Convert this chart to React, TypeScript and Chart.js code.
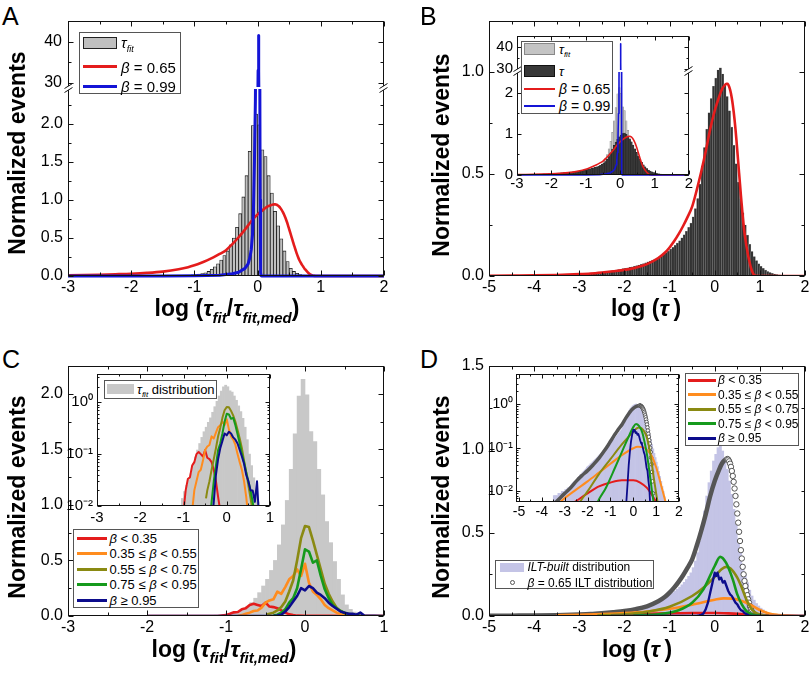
import React, { useEffect, useRef } from 'react';
import { Chart, registerables } from 'chart.js';

Chart.register(...registerables);

const FONT = "'Liberation Sans', Arial, Helvetica, sans-serif";

// ---------------- data ----------------
// tau_fit histogram (A, B inset, C)
const FIT_BIN_X = [-1.225, -1.175, -1.125, -1.075, -1.025, -0.975, -0.925, -0.875, -0.825, -0.775, -0.725, -0.675, -0.625, -0.575, -0.525, -0.475, -0.425, -0.375, -0.325, -0.275, -0.225, -0.175, -0.125, -0.075, -0.025, 0.025, 0.075, 0.125, 0.175, 0.225, 0.275, 0.325, 0.375, 0.425, 0.475, 0.525, 0.575, 0.625, 0.675, 0.725];
const FIT_HIST = [0.003, 0.005, 0.007, 0.01, 0.014, 0.019, 0.025, 0.032, 0.042, 0.06, 0.088, 0.12, 0.16, 0.21, 0.27, 0.33, 0.41, 0.5, 0.64, 0.82, 1.04, 1.32, 1.64, 1.98, 2.13, 1.99, 1.66, 1.57, 1.32, 1.09, 0.85, 0.66, 0.49, 0.33, 0.19, 0.1, 0.06, 0.035, 0.02, 0.012];

// tau histogram (B main, B inset, D ILT-built)
const TAU_BIN_X = [
  -3.475, -3.425, -3.375, -3.325, -3.275, -3.225, -3.175, -3.125, -3.075, -3.025,
  -2.975, -2.925, -2.875, -2.825, -2.775, -2.725, -2.675, -2.625, -2.575, -2.525,
  -2.475, -2.425, -2.375, -2.325, -2.275, -2.225, -2.175, -2.125, -2.075, -2.025,
  -1.975, -1.925, -1.875, -1.825, -1.775, -1.725, -1.675, -1.625, -1.575, -1.525,
  -1.475, -1.425, -1.375, -1.325, -1.275, -1.225, -1.175, -1.125, -1.075, -1.025,
  -0.975, -0.925, -0.875, -0.825, -0.775, -0.725, -0.675, -0.625, -0.575, -0.525,
  -0.475, -0.425, -0.375, -0.325, -0.275, -0.225, -0.175, -0.125, -0.075, -0.025,
  0.025, 0.075, 0.125, 0.175, 0.225, 0.275, 0.325, 0.375, 0.425, 0.475,
  0.525, 0.575, 0.625, 0.675, 0.725, 0.775, 0.825, 0.875, 0.925, 0.975,
  1.025, 1.075, 1.125, 1.175, 1.225, 1.275, 1.325, 1.375, 1.425, 1.475,
  1.525, 1.575];
const TAU_HIST = [
  0.008, 0.008, 0.008, 0.008, 0.009, 0.009, 0.009, 0.01, 0.01, 0.01,
  0.011, 0.011, 0.012, 0.012, 0.013, 0.014, 0.015, 0.016, 0.017, 0.018,
  0.019, 0.021, 0.022, 0.024, 0.025, 0.027, 0.029, 0.031, 0.033, 0.036,
  0.038, 0.04, 0.043, 0.045, 0.048, 0.051, 0.054, 0.057, 0.061, 0.065,
  0.069, 0.073, 0.078, 0.083, 0.088, 0.094, 0.1, 0.107, 0.114, 0.122,
  0.131, 0.14, 0.15, 0.161, 0.173, 0.187, 0.202, 0.219, 0.238, 0.259,
  0.29, 0.33, 0.38, 0.45, 0.54, 0.63, 0.72, 0.8, 0.87, 0.93,
  0.97, 1.01, 1.02, 0.99, 0.94, 0.88, 0.81, 0.73, 0.64, 0.55,
  0.46, 0.38, 0.31, 0.25, 0.2, 0.155, 0.12, 0.095, 0.075, 0.06,
  0.047, 0.037, 0.029, 0.022, 0.017, 0.013, 0.01, 0.0075, 0.0055, 0.004,
  0.003, 0.002];

// beta = 0.65 curve (A, B red; D ILT circles)
const B065_X = [-5, -4.5, -4, -3.5, -3, -2.75, -2.5, -2.25, -2, -1.75, -1.5, -1.25, -1.1, -1, -0.9, -0.8, -0.7, -0.6, -0.5, -0.4, -0.3, -0.2, -0.1, 0, 0.1, 0.16, 0.22, 0.26, 0.28, 0.3, 0.32, 0.34, 0.36, 0.38, 0.4, 0.42, 0.44, 0.46, 0.48, 0.5, 0.52, 0.54, 0.56, 0.58, 0.6, 0.62, 0.64, 0.66, 0.68, 0.7, 0.72, 0.74, 0.76, 0.78, 0.8, 0.82, 0.84, 0.86, 0.88, 0.9, 0.92, 0.95, 1, 1.5, 2];
const B065_Y = [0.001, 0.002, 0.003, 0.005, 0.009, 0.012, 0.017, 0.023, 0.03, 0.041, 0.058, 0.088, 0.115, 0.14, 0.17, 0.205, 0.245, 0.29, 0.34, 0.42, 0.51, 0.61, 0.72, 0.81, 0.88, 0.915, 0.935, 0.942, 0.942, 0.938, 0.928, 0.914, 0.895, 0.87, 0.84, 0.805, 0.765, 0.72, 0.67, 0.615, 0.56, 0.505, 0.45, 0.395, 0.345, 0.295, 0.25, 0.21, 0.18, 0.15, 0.125, 0.1, 0.08, 0.06, 0.042, 0.028, 0.017, 0.009, 0.004, 0.0015, 0.0005, 0.0001, 0, 0, 0];

// beta = 0.99 curve (A, B inset blue)
const B099_X = [-3, -1.5, -1, -0.6, -0.4, -0.3, -0.2, -0.15, -0.12, -0.1, -0.08, -0.065, -0.05, -0.035, -0.02, -0.005, 0.008, 0.014, 0.02, 0.028, 0.034, 0.04, 0.045, 0.05, 0.055, 0.065, 2];
const B099_Y = [0, 0, 0.002, 0.01, 0.03, 0.05, 0.1, 0.16, 0.25, 0.35, 0.55, 0.9, 1.5, 2.3, 4, 12, 33, 41.5, 33, 12, 3, 1, 0.3, 0.05, 0.005, 0, 0];

// panel C beta-class distributions of tau_fit
const C_RED_X = [-2, -1.1, -1, -0.95, -0.9, -0.85, -0.8, -0.75, -0.7, -0.65, -0.6, -0.55, -0.5, -0.45, -0.4, -0.35, -0.3, -0.25, -0.2, -0.15, -0.1, 0, 0.3, 0.7, 1];
const C_RED_Y = [0, 0, 0.008, 0.02, 0.033, 0.036, 0.06, 0.07, 0.1, 0.11, 0.1, 0.09, 0.12, 0.085, 0.08, 0.07, 0.05, 0.03, 0.015, 0.008, 0.003, 0.001, 0.001, 0, 0];
const C_ORANGE_X = [-0.85, -0.8, -0.75, -0.7, -0.65, -0.6, -0.55, -0.5, -0.45, -0.4, -0.35, -0.3, -0.25, -0.2, -0.15, -0.1, -0.05, 0, 0.05, 0.1, 0.15, 0.2, 0.25, 0.3, 0.35, 0.4, 0.45, 0.5, 0.6, 1];
const C_ORANGE_Y = [0, 0.008, 0.02, 0.03, 0.045, 0.05, 0.075, 0.12, 0.14, 0.15, 0.22, 0.2, 0.26, 0.33, 0.36, 0.42, 0.36, 0.47, 0.3, 0.22, 0.19, 0.15, 0.1, 0.07, 0.05, 0.03, 0.015, 0.006, 0.002, 0];
const C_OLIVE_X = [-0.48, -0.45, -0.4, -0.35, -0.3, -0.25, -0.2, -0.15, -0.1, -0.05, 0, 0.05, 0.1, 0.15, 0.2, 0.25, 0.3, 0.35, 0.4, 0.45, 0.5, 0.55, 0.6, 0.65, 0.7];
const C_OLIVE_Y = [0.014, 0.02, 0.03, 0.05, 0.08, 0.13, 0.22, 0.32, 0.5, 0.7, 0.81, 0.8, 0.68, 0.55, 0.42, 0.29, 0.2, 0.13, 0.075, 0.045, 0.025, 0.014, 0.008, 0.003, 0.001];
const C_GREEN_X = [-0.4, -0.35, -0.3, -0.25, -0.2, -0.15, -0.1, -0.05, 0, 0.05, 0.1, 0.15, 0.2, 0.25, 0.3, 0.35, 0.4, 0.45, 0.5, 0.55, 0.6, 0.65, 0.7];
const C_GREEN_Y = [0.005, 0.012, 0.03, 0.06, 0.12, 0.16, 0.25, 0.42, 0.6, 0.58, 0.48, 0.5, 0.36, 0.24, 0.16, 0.1, 0.07, 0.045, 0.03, 0.02, 0.012, 0.006, 0.002];
const C_NAVY_X = [-2, -0.4, -0.35, -0.3, -0.25, -0.2, -0.15, -0.1, -0.05, 0, 0.05, 0.1, 0.15, 0.2, 0.25, 0.3, 0.35, 0.4, 0.45, 0.5, 0.55, 0.6, 0.65, 0.7, 0.75, 1];
const C_NAVY_Y = [0, 0, 0.004, 0.012, 0.04, 0.08, 0.13, 0.18, 0.25, 0.23, 0.27, 0.25, 0.21, 0.19, 0.16, 0.12, 0.09, 0.065, 0.04, 0.03, 0.02, 0.02, 0.012, 0.03, 0.005, 0];

// panel D beta-class ILT distributions of tau
const D_RED_X = [-3.5, -3, -2.5, -2, -1.5, -1, -0.5, 0, 0.3, 0.6, 0.9, 1.1, 1.3, 1.6, 2];
const D_RED_Y = [0.003, 0.004, 0.006, 0.009, 0.013, 0.016, 0.018, 0.018, 0.016, 0.012, 0.007, 0.0045, 0.002, 0.0005, 0];
const D_ORANGE_X = [-3.5, -3, -2.5, -2, -1.5, -1, -0.5, 0, 0.2, 0.4, 0.6, 0.8, 1, 1.2, 1.4, 1.6, 2];
const D_ORANGE_Y = [0.004, 0.007, 0.011, 0.017, 0.027, 0.043, 0.068, 0.098, 0.106, 0.104, 0.09, 0.066, 0.036, 0.015, 0.006, 0.002, 0];
const D_OLIVE_X = [-2.6, -2.4, -2, -1.5, -1, -0.5, -0.25, 0, 0.15, 0.25, 0.35, 0.5, 0.6, 0.7, 0.8, 0.9, 1, 1.1, 1.2];
const D_OLIVE_Y = [0.003, 0.005, 0.01, 0.025, 0.055, 0.12, 0.17, 0.235, 0.28, 0.295, 0.285, 0.23, 0.17, 0.1, 0.048, 0.02, 0.009, 0.004, 0.001];
const D_GREEN_X = [-1.8, -1.6, -1.2, -0.8, -0.5, -0.25, 0, 0.12, 0.25, 0.4, 0.5, 0.6, 0.7, 0.8, 0.9, 1];
const D_GREEN_Y = [0.002, 0.005, 0.012, 0.035, 0.08, 0.16, 0.3, 0.355, 0.32, 0.22, 0.13, 0.07, 0.03, 0.012, 0.005, 0.002];
const D_NAVY_X = [-2.3, -0.5, -0.4, -0.35, -0.3, -0.25, -0.2, -0.15, -0.1, -0.05, 0, 0.03, 0.06, 0.1, 0.14, 0.18, 0.22, 0.26, 0.3, 0.34, 0.38, 0.42, 0.46, 0.5, 0.54, 0.58, 0.62, 0.66, 0.7, 0.75, 0.8, 2];
const D_NAVY_Y = [0, 0, 0.001, 0.003, 0.006, 0.015, 0.04, 0.08, 0.14, 0.2, 0.26, 0.24, 0.26, 0.22, 0.23, 0.2, 0.21, 0.18, 0.15, 0.13, 0.12, 0.1, 0.08, 0.07, 0.05, 0.035, 0.03, 0.018, 0.012, 0.004, 0.001, 0];

// ticks
const X3_MAJOR = [-3, -2, -1, 0, 1, 2];
const X3_MINOR = [-2.5, -1.5, -0.5, 0.5, 1.5];
const X5_MAJOR = [-5, -4, -3, -2, -1, 0, 1, 2];
const X5_MINOR = [-4.5, -3.5, -2.5, -1.5, -0.5, 0.5, 1.5];
const XC_MAJOR = [-3, -2, -1, 0, 1];
const XC_MINOR = [-2.5, -1.5, -0.5, 0.5];
const LOG_MAJOR = [0.01, 0.1, 1];
const LOG_MINOR_C = [0.02, 0.03, 0.04, 0.05, 0.06, 0.07, 0.08, 0.09, 0.2, 0.3, 0.4, 0.5, 0.6, 0.7, 0.8, 0.9, 2, 3];
const LOG_MINOR_D = [0.006, 0.007, 0.008, 0.009, 0.02, 0.03, 0.04, 0.05, 0.06, 0.07, 0.08, 0.09, 0.2, 0.3, 0.4, 0.5, 0.6, 0.7, 0.8, 0.9, 2, 3, 4];

const CLASS_LABELS = ['β < 0.35', '0.35 ≤ β < 0.55', '0.55 ≤ β < 0.75', '0.75 ≤ β < 0.95', 'β ≥ 0.95'];

// ---------------- styles ----------------
const RED = '#e41c1c';
const BLUE = '#1414d6';
const ORANGE = '#ff8c1e';
const OLIVE = '#8a8a12';
const GREEN = '#169a1c';
const NAVY = '#0c0c8c';
const ILT_GREY = '#555555';
const LAV = '#c4c4e6';
const CLASS_COLORS = [RED, ORANGE, OLIVE, GREEN, NAVY];

const pts = (xs: number[], ys: number[], log: boolean) =>
  xs.map((x, i) => ({ x, y: log && !(ys[i] > 0) ? null : ys[i] }));

function line(xs: number[], ys: number[], color: string, width: number, log: boolean, extra: any = {}) {
  return {
    type: 'line', data: pts(xs, ys, log), borderColor: color, borderWidth: width,
    pointRadius: 0, fill: false, tension: 0, borderJoinStyle: 'round', ...extra,
  };
}
function bars(xs: number[], ys: number[], style: any, log: boolean) {
  return {
    type: 'bar', data: pts(xs, ys, log), barPercentage: 1, categoryPercentage: 1,
    grouped: false, borderSkipped: 'start', borderWidth: 0, ...style,
  };
}
function ilt(log: boolean, r: number, lw: number) {
  return line(B065_X, B065_Y, ILT_GREY, lw, log, {
    cubicInterpolationMode: 'monotone',
    segment: { borderColor: (c: any) => (c.p0.parsed.x >= 0.27 ? 'rgba(0,0,0,0)' : ILT_GREY) },
    pointRadius: (c: any) => {
      const x = c.raw ? c.raw.x : -99;
      return x >= 0.27 && x <= 0.92 ? r : 0;
    },
    pointBackgroundColor: '#fff', pointBorderColor: ILT_GREY, pointBorderWidth: 1,
  });
}

const smooth = { cubicInterpolationMode: 'monotone' };

const dsA = (clip: any) => [
  bars(FIT_BIN_X, FIT_HIST, { backgroundColor: '#c0c0c0', borderColor: '#1a1a1a', borderWidth: 0.8 }, false),
  line(B065_X, B065_Y, RED, 2.6, false, { ...smooth, clip }),
  line(B099_X, B099_Y, BLUE, 3, false, { clip }),
];
const dsBI = (clip: any) => [
  bars(FIT_BIN_X, FIT_HIST, { backgroundColor: '#c4c4c4', borderColor: '#8a8a8a', borderWidth: 0.5 }, false),
  bars(TAU_BIN_X, TAU_HIST, { backgroundColor: '#383838', borderColor: '#1a1a1a', borderWidth: 0.3 }, false),
  line(B065_X, B065_Y, RED, 1.6, false, { ...smooth, clip }),
  line(B099_X, B099_Y, BLUE, 1.6, false, { clip }),
];
const dsC = (log: boolean, lw: number) => [
  bars(FIT_BIN_X, FIT_HIST, { backgroundColor: '#c8c8c8' }, log),
  line(C_RED_X, C_RED_Y, RED, lw, log),
  line(C_ORANGE_X, C_ORANGE_Y, ORANGE, lw, log),
  line(C_OLIVE_X, C_OLIVE_Y, OLIVE, lw, log),
  line(C_GREEN_X, C_GREEN_Y, GREEN, lw, log),
  line(C_NAVY_X, C_NAVY_Y, NAVY, lw, log),
];
const dsD = (log: boolean, lw: number, r: number, iltw: number) => [
  bars(TAU_BIN_X, TAU_HIST, { backgroundColor: LAV }, log),
  ilt(log, r, iltw),
  line(D_RED_X, D_RED_Y, RED, lw, log, smooth),
  line(D_ORANGE_X, D_ORANGE_Y, ORANGE, lw, log, smooth),
  line(D_OLIVE_X, D_OLIVE_Y, OLIVE, lw, log, smooth),
  line(D_GREEN_X, D_GREEN_Y, GREEN, lw, log, smooth),
  line(D_NAVY_X, D_NAVY_Y, NAVY, lw * 0.9, log),
];

// ---------------- frame / ticks plugin ----------------
const framePlugin = {
  id: 'frame',
  beforeDatasetsDraw(chart: any, _a: any, o: any) {
    if (!o || !o.bg) return;
    const a = chart.chartArea;
    const ctx = chart.ctx;
    ctx.save();
    ctx.fillStyle = o.bg;
    ctx.fillRect(a.left, a.top, a.right - a.left, a.bottom - a.top);
    ctx.restore();
  },
  afterDraw(chart: any, _a: any, o: any) {
    const ctx = chart.ctx;
    const a = chart.chartArea;
    const xs = chart.scales.x;
    const ys = chart.scales.y;
    const s: string = o.sides;
    const L = Math.round(a.left) + 0.5;
    const R = Math.round(a.right) - 0.5;
    const T = Math.round(a.top) + 0.5;
    const B = Math.round(a.bottom) - 0.5;
    ctx.save();
    ctx.strokeStyle = '#111';
    ctx.lineWidth = 1;
    ctx.beginPath();
    if (s.includes('t')) { ctx.moveTo(L - 0.5, T); ctx.lineTo(R + 0.5, T); }
    if (s.includes('b')) { ctx.moveTo(L - 0.5, B); ctx.lineTo(R + 0.5, B); }
    if (s.includes('l')) { ctx.moveTo(L, a.top); ctx.lineTo(L, a.bottom); }
    if (s.includes('r')) { ctx.moveTo(R, a.top); ctx.lineTo(R, a.bottom); }
    const xt = (vals: number[], len: number) => vals.forEach((v) => {
      const p = Math.round(xs.getPixelForValue(v)) + 0.5;
      if (s.includes('b')) { ctx.moveTo(p, B); ctx.lineTo(p, B - len); }
      if (s.includes('t')) { ctx.moveTo(p, T); ctx.lineTo(p, T + len); }
    });
    const yt = (vals: number[], len: number) => vals.forEach((v) => {
      const p = Math.round(ys.getPixelForValue(v)) + 0.5;
      if (p < a.top - 0.1 || p > a.bottom + 0.6) return;
      ctx.moveTo(L, p); ctx.lineTo(L + len, p);
      ctx.moveTo(R, p); ctx.lineTo(R - len, p);
    });
    xt(o.xMajor, o.maj); xt(o.xMinor, o.min);
    yt(o.yMajor, o.maj); yt(o.yMinor, o.min);
    ctx.stroke();
    if (o.breakTop) {
      const yb = a.top - 1;
      [L, R].forEach((x) => {
        ctx.fillStyle = '#fff';
        ctx.beginPath();
        ctx.moveTo(x - 4, yb + 4.5); ctx.lineTo(x + 4, yb - 0.5);
        ctx.lineTo(x + 4, yb - 4.5); ctx.lineTo(x - 4, yb + 0.5);
        ctx.closePath(); ctx.fill();
        ctx.beginPath();
        ctx.moveTo(x - 4, yb + 4.5); ctx.lineTo(x + 4, yb - 0.5);
        ctx.moveTo(x - 4, yb + 0.5); ctx.lineTo(x + 4, yb - 4.5);
        ctx.stroke();
      });
    }
    ctx.restore();
  },
};

// ---------------- chart specs ----------------
type AxisDef = { min: number; max: number; log?: boolean; major: number[]; minor: number[]; labels: boolean; fmt?: (v: number) => string; pad?: number };
type Spec = {
  key: string; x0: number; y0: number; w: number; h: number; ml: number; mt: number; mr: number; mb: number;
  xa: AxisDef; ya: AxisDef; datasets: () => any[]; sides: string; breakTop?: boolean; bg?: string;
  font: number; maj: number; min: number;
};

const fmt1 = (v: number) => v.toFixed(1);
const fmtI = (v: number) => String(v);
const fmtLog = (v: number) => (Math.abs(v - 1) < 1e-9 ? '10⁰' : Math.abs(v - 0.1) < 1e-9 ? '10⁻¹' : Math.abs(v - 0.01) < 1e-9 ? '10⁻²' : '');

function buildConfig(s: Spec) {
  const font = { family: FONT, size: s.font };
  const axis = (a: AxisDef, isX: boolean) => ({
    type: a.log ? 'logarithmic' : 'linear',
    min: a.min, max: a.max, bounds: 'data', offset: false,
    position: isX ? 'bottom' : 'left',
    grid: { display: false, drawTicks: false },
    border: { display: false },
    ticks: {
      display: a.labels, font, color: '#000', padding: a.pad ?? (isX ? 2 : 5),
      autoSkip: false, maxRotation: 0, minRotation: 0,
      callback: (v: any) => (a.fmt ? a.fmt(Number(v)) : String(v)),
    },
    afterBuildTicks: (sc: any) => { sc.ticks = a.major.map((v) => ({ value: v })); },
    afterFit: (sc: any) => { if (isX) sc.height = s.mb; else sc.width = s.ml; },
  });
  const ds = s.datasets();
  return {
    type: 'line',
    data: { datasets: ds.map((d, i) => ({ order: ds.length - i, ...d })) },
    options: {
      responsive: true, maintainAspectRatio: false, animation: false, events: [],
      layout: { padding: { top: s.mt, right: s.mr, left: 0, bottom: 0 } },
      plugins: {
        legend: { display: false }, tooltip: { enabled: false }, title: { display: false },
        frame: {
          sides: s.sides, breakTop: !!s.breakTop, bg: s.bg, maj: s.maj, min: s.min,
          xMajor: s.xa.major, xMinor: s.xa.minor, yMajor: s.ya.major, yMinor: s.ya.minor,
        },
      },
      scales: { x: axis(s.xa, true), y: axis(s.ya, false) },
    },
    plugins: [framePlugin],
  };
}

const clipSplit = { left: 0, right: 0, top: 0, bottom: 3 };

const SPECS: Spec[] = [
  { key: 'A_up', x0: 68, y0: 21, w: 316, h: 66, ml: 46, mt: 18, mr: 16, mb: 18,
    xa: { min: -3, max: 2, major: X3_MAJOR, minor: X3_MINOR, labels: false },
    ya: { min: 29, max: 45, major: [30, 40], minor: [35], labels: true, fmt: fmtI, pad: 6 },
    datasets: () => dsA(0), sides: 'tlr', font: 16, maj: 5, min: 3 },
  { key: 'A_lo', x0: 68, y0: 89, w: 316, h: 187, ml: 46, mt: 18, mr: 16, mb: 30,
    xa: { min: -3, max: 2, major: X3_MAJOR, minor: X3_MINOR, labels: true, fmt: fmtI },
    ya: { min: 0, max: 2.46, major: [0, 0.5, 1, 1.5, 2], minor: [0.25, 0.75, 1.25, 1.75, 2.25], labels: true, fmt: fmt1 },
    datasets: () => dsA(clipSplit), sides: 'blr', breakTop: true, font: 16, maj: 5, min: 3 },
  { key: 'B', x0: 489, y0: 21, w: 316, h: 255, ml: 46, mt: 18, mr: 16, mb: 30,
    xa: { min: -5, max: 2, major: X5_MAJOR, minor: X5_MINOR, labels: true, fmt: fmtI },
    ya: { min: 0, max: 1.25, major: [0, 0.5, 1], minor: [0.25, 0.75], labels: true, fmt: fmt1 },
    datasets: () => [
      bars(TAU_BIN_X, TAU_HIST, { backgroundColor: '#333333', borderColor: '#8a8a8a', borderWidth: 0.4 }, false),
      line(B065_X, B065_Y, RED, 2.6, false, smooth),
    ], sides: 'tblr', font: 16, maj: 5, min: 3 },
  { key: 'B_in_up', x0: 517, y0: 36, w: 172, h: 34, ml: 34, mt: 18, mr: 16, mb: 18,
    xa: { min: -3, max: 2, major: X3_MAJOR, minor: X3_MINOR, labels: false },
    ya: { min: 29.5, max: 45, major: [30, 40], minor: [35], labels: true, fmt: fmtI, pad: 4 },
    datasets: () => dsBI(0), sides: 'tlr', bg: '#fff', font: 15, maj: 4, min: 2 },
  { key: 'B_in_lo', x0: 517, y0: 72, w: 172, h: 103, ml: 34, mt: 18, mr: 16, mb: 26,
    xa: { min: -3, max: 2, major: X3_MAJOR, minor: X3_MINOR, labels: true, fmt: fmtI, pad: 0 },
    ya: { min: 0, max: 2.51, major: [0, 1, 2], minor: [0.5, 1.5], labels: true, fmt: fmtI, pad: 4 },
    datasets: () => dsBI(clipSplit), sides: 'blr', breakTop: true, bg: '#fff', font: 15, maj: 4, min: 2 },
  { key: 'C', x0: 68, y0: 366, w: 316, h: 250, ml: 46, mt: 18, mr: 16, mb: 30,
    xa: { min: -3, max: 1, major: XC_MAJOR, minor: XC_MINOR, labels: true, fmt: fmtI },
    ya: { min: 0, max: 2.25, major: [0, 0.5, 1, 1.5, 2], minor: [0.25, 0.75, 1.25, 1.75], labels: true, fmt: fmt1 },
    datasets: () => dsC(false, 2.6), sides: 'tblr', font: 16, maj: 5, min: 3 },
  { key: 'C_in', x0: 97, y0: 374, w: 173, h: 132, ml: 42, mt: 18, mr: 16, mb: 28,
    xa: { min: -3, max: 1, major: XC_MAJOR, minor: XC_MINOR, labels: true, fmt: fmtI, pad: 3 },
    ya: { min: 0.01, max: 3.5, log: true, major: LOG_MAJOR, minor: LOG_MINOR_C, labels: true, fmt: fmtLog, pad: 4 },
    datasets: () => dsC(true, 2), sides: 'tblr', bg: '#fff', font: 15, maj: 4, min: 2 },
  { key: 'D', x0: 489, y0: 366, w: 316, h: 250, ml: 46, mt: 18, mr: 16, mb: 30,
    xa: { min: -5, max: 2, major: X5_MAJOR, minor: X5_MINOR, labels: true, fmt: fmtI },
    ya: { min: 0, max: 1.5, major: [0, 0.5, 1, 1.5], minor: [0.25, 0.75, 1.25], labels: true, fmt: fmt1 },
    datasets: () => dsD(false, 2.6, 2.7, 4.5), sides: 'tblr', font: 16, maj: 5, min: 3 },
  { key: 'D_in', x0: 516, y0: 374, w: 163, h: 128, ml: 38, mt: 18, mr: 16, mb: 26,
    xa: { min: -5.13, max: 2, major: X5_MAJOR, minor: X5_MINOR, labels: true, fmt: fmtI, pad: 2 },
    ya: { min: 0.0057, max: 5, log: true, major: LOG_MAJOR, minor: LOG_MINOR_D, labels: true, fmt: fmtLog, pad: 3 },
    datasets: () => dsD(true, 2, 1.8, 3.5), sides: 'tblr', bg: '#fff', font: 14, maj: 4, min: 2 },
];

function Plot({ spec }: { spec: Spec }) {
  const ref = useRef<HTMLCanvasElement | null>(null);
  useEffect(() => {
    const chart = new Chart(ref.current as HTMLCanvasElement, buildConfig(spec) as any);
    return () => chart.destroy();
  }, [spec]);
  const W = spec.w + spec.ml + spec.mr;
  const H = spec.h + spec.mt + spec.mb;
  return (
    <div style={{ position: 'absolute', left: spec.x0 - spec.ml, top: spec.y0 - spec.mt, width: W, height: H }}>
      <canvas ref={ref} />
    </div>
  );
}

// ---------------- HTML text helpers ----------------
const T = (p: { x: number; cy: number; size: number; children: any; style?: any }) => (
  <div style={{ position: 'absolute', left: p.x, top: p.cy - p.size / 2, fontSize: p.size, lineHeight: `${p.size}px`, whiteSpace: 'nowrap', ...p.style }}>
    {p.children}
  </div>
);
const Box = (p: { x: number; y: number; w: number; h: number; style?: any }) => (
  <div style={{ position: 'absolute', left: p.x, top: p.y, width: p.w, height: p.h, boxSizing: 'border-box', ...p.style }} />
);
const Sub = (p: { size: number; children: any }) => (
  <span style={{ fontSize: p.size, fontStyle: 'italic', position: 'relative', top: p.size * 0.45 }}>{p.children}</span>
);
const TauFit = ({ size }: { size: number }) => (<><i>τ</i><Sub size={size}>fit</Sub></>);
const withBeta = (s: string) => {
  const parts = s.split('β');
  return parts.map((p, i) => (
    <React.Fragment key={i}>{p}{i < parts.length - 1 ? <i>β</i> : null}</React.Fragment>
  ));
};
const YTitle = ({ cx, cy }: { cx: number; cy: number }) => (
  <div style={{ position: 'absolute', left: cx, top: cy, transform: 'translate(-50%,-50%) rotate(-90deg)', fontSize: 23, fontWeight: 700, lineHeight: '23px', whiteSpace: 'nowrap' }}>
    Normalized events
  </div>
);
const XTitleFit = ({ cx, base }: { cx: number; base: number }) => (
  <div style={{ position: 'absolute', left: cx, top: base - 19.5, transform: 'translateX(-50%)', fontSize: 23, fontWeight: 700, lineHeight: '23px', whiteSpace: 'nowrap' }}>
    log (<i>τ</i><Sub size={15}>fit</Sub>/<i>τ</i><Sub size={15}>fit,med</Sub>)
  </div>
);
const XTitleTau = ({ cx, base }: { cx: number; base: number }) => (
  <div style={{ position: 'absolute', left: cx, top: base - 19.5, transform: 'translateX(-50%)', fontSize: 23, fontWeight: 700, lineHeight: '23px', whiteSpace: 'nowrap' }}>
    log (<i>τ</i>&#8201;)
  </div>
);
const Letter = ({ x, y, c }: { x: number; y: number; c: string }) => (
  <div style={{ position: 'absolute', left: x, top: y, fontSize: 25, lineHeight: '25px' }}>{c}</div>
);

const C_LEG_Y = [538, 553.7, 569, 584.7, 600.3];
const D_LEG_Y = [380.3, 394.7, 409.3, 423.7, 438];

export default function App() {
  return (
    <div style={{ position: 'absolute', left: 0, top: 0, width: 812, height: 675, overflow: 'hidden', background: '#fff', fontFamily: FONT, color: '#000' }}>
      {SPECS.map((s) => <Plot key={s.key} spec={s} />)}

      <Letter x={2} y={4} c="A" />
      <Letter x={420} y={4} c="B" />
      <Letter x={2} y={347} c="C" />
      <Letter x={420} y={347} c="D" />

      <YTitle cx={17} cy={153} />
      <YTitle cx={441} cy={155} />
      <YTitle cx={17} cy={497} />
      <YTitle cx={441} cy={497} />

      <XTitleFit cx={227} base={316.5} />
      <XTitleTau cx={646} base={316.5} />
      <XTitleFit cx={224} base={657} />
      <XTitleTau cx={637} base={657} />

      {/* A legend */}
      <Box x={79} y={32} w={102} h={62} style={{ border: '1px solid #555', background: '#fff' }} />
      <Box x={83} y={37} w={34} h={12} style={{ background: '#c0c0c0', border: '1px solid #222' }} />
      <T x={121} cy={42} size={15}><TauFit size={9} /></T>
      <Box x={83} y={65.2} w={34} h={3} style={{ background: RED }} />
      <T x={121} cy={67} size={15}>{withBeta('β = 0.65')}</T>
      <Box x={83} y={84.5} w={34} h={3} style={{ background: BLUE }} />
      <T x={121} cy={86} size={15}>{withBeta('β = 0.99')}</T>

      {/* B inset legend */}
      <Box x={521} y={41} w={92} h={73} style={{ border: '1px solid #555', background: '#fff' }} />
      <Box x={524} y={43} w={31} h={12} style={{ background: '#c4c4c4', border: '1px solid #888' }} />
      <T x={559} cy={49} size={13}><TauFit size={8} /></T>
      <Box x={524} y={65} w={31} h={12} style={{ background: '#383838', border: '1px solid #111' }} />
      <T x={559} cy={71} size={13}><i>τ</i></T>
      <Box x={524} y={88.3} w={31} h={2} style={{ background: RED }} />
      <T x={559} cy={89} size={14}>{withBeta('β = 0.65')}</T>
      <Box x={524} y={105} w={31} h={2} style={{ background: BLUE }} />
      <T x={559} cy={106} size={14}>{withBeta('β = 0.99')}</T>

      {/* C main legend */}
      <Box x={73} y={529} w={126} h={79} style={{ border: '1px solid #555', background: '#fff' }} />
      {CLASS_LABELS.map((lab, i) => (
        <React.Fragment key={'c' + i}>
          <Box x={77} y={C_LEG_Y[i] - 1.5} w={30} h={3} style={{ background: CLASS_COLORS[i] }} />
          <T x={109.5} cy={C_LEG_Y[i]} size={13}>{withBeta(lab)}</T>
        </React.Fragment>
      ))}

      {/* C inset legend */}
      <Box x={104} y={380} w={113} h={18.5} style={{ border: '1px solid #555', background: '#fff' }} />
      <Box x={107} y={383.5} w={27} h={10} style={{ background: '#c8c8c8' }} />
      <T x={137} cy={389.3} size={13}><TauFit size={8} /> distribution</T>

      {/* D legend */}
      <Box x={685} y={373} w={114} h={73} style={{ border: '1px solid #555', background: '#fff' }} />
      {CLASS_LABELS.map((lab, i) => (
        <React.Fragment key={'d' + i}>
          <Box x={688} y={D_LEG_Y[i] - 1.5} w={28} h={3} style={{ background: CLASS_COLORS[i] }} />
          <T x={718} cy={D_LEG_Y[i]} size={12}>{withBeta(lab)}</T>
        </React.Fragment>
      ))}

      {/* D lower legend */}
      <Box x={495} y={560} w={159} h={29} style={{ border: '1px solid #555', background: '#fff' }} />
      <Box x={500} y={563} w={24} h={8.5} style={{ background: LAV }} />
      <T x={527.5} cy={567.3} size={12}><i>ILT-built</i> distribution</T>
      <Box x={509.5} y={580.2} w={5} h={5} style={{ border: '1px solid #555', borderRadius: '50%', background: '#fff' }} />
      <T x={527.5} cy={582.7} size={12}>{withBeta('β = 0.65 ILT distribution')}</T>
    </div>
  );
}
